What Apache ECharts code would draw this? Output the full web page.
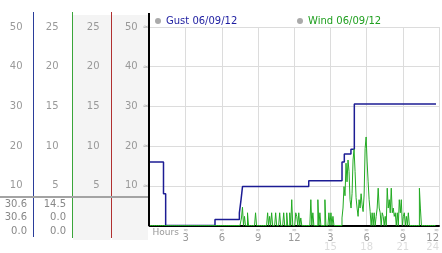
<!DOCTYPE html>
<html><head><meta charset="utf-8">
<script src="https://cdn.jsdelivr.net/npm/echarts@6/dist/echarts.min.js"></script>
<style>html,body{margin:0;padding:0;background:#fff}#c{width:442px;height:253px}</style>
</head><body><div id="c"></div>
<script>
const gustName = 'Gust 06/09/12';
const windName = 'Wind 06/09/12';
// gust: value holds from each hour onward
const gustHours  = [0, 1.16, 1.34, 5.43, 7.45, 7.59, 7.71, 13.2, 15.96, 16.15, 16.7, 16.98, 23.75];
const gustValues = [16, 8,   0,    1.5,  3.2,  6.5,  9.8,  11.3, 16.0,  18.0,  19.2, 30.6,  30.6];
// wind: one reading every 5 minutes from 0:00, one row per hour
const windStepMinutes = 5;
const windValues = [
  0,0,0,0,0,0,0,0,0,0,0,0,
  0,0,0,0,0,0,0,0,0,0,0,0,
  0,0,0,0,0,0,0,0,0,0,0,0,
  0,0,0,0,0,0,0,0,0,0,0,0,
  0,0,0,0,0,0,0,0,0,0,0,0,
  0,0,0,0,0,0,0,0,0,0,0,0,
  0,0,0,0,0,0,0,0,0,0,0,0,
  0,0,0,0,0,0,0,0,1.9,4.6,0,2.3,
  0,0,3.2,0,0,0,0,0,0,0,3.2,0,
  0,0,0,0,0,0,0,0,0,0,3.2,0,
  2.3,0,3.2,0,0,0,3.2,0,0,0,3.2,0,
  0,0,3.2,0,0,3.2,0,0,3.2,0,6.5,0,
  0,0,3.2,2.3,0,3.2,0,1.9,0,0,0,0,
  0,0,0,0,0,6.5,0,3.2,0,0,0,0,
  6.5,0,3.2,0,0,0,0,6.5,0,0,0,3.2,
  0,3.2,0,2.3,0,0,0,0,0,0,0,0,
  1.9,4.4,9.8,7.5,15.7,11,16.5,13.6,6.5,4.4,8,16.5,
  19.2,13.6,7,4.4,2.3,6.5,4.4,8,5.2,3.5,7.7,19.4,
  22.3,16,11,6.5,3.5,0,3.2,0,3.2,0,2.3,4.4,
  9.4,4.4,3.2,0,3.2,2.3,0,2.3,0,9.4,4.4,6.5,
  3.2,9.4,3.2,4.4,2.3,3.2,0,3.2,0,6.5,3.2,6.5,
  0,2.3,3.2,0,2.3,0,3.2,0,0,0,0,0,
  0,0,0,0,0,9.4,4.4,0,0,0,0,0,
  0,0,0,0,0,0,0,0,0,0
];
const xTickHours    = [0, 3, 6, 9, 12, 15, 18, 21, 24];
const xTickLabels12 = ['Hours', '3', '6', '9', '12', '3', '6', '9', '12'];
const xTickLabels24 = ['', '', '', '', '', '15', '18', '21', '24'];
const ticksMph  = ['10', '20', '30', '40', '50'];
const ticksHalf = ['5', '10', '15', '20', '25'];
const gustStats = ['30.6', '30.6', '0.0'];
const windStats = ['14.5', '0.0', '0.0'];

const FONT = 'DejaVu Sans';
const GUST = '#1c1c94';
const WIND = '#22aa22';
const LBL = '#999';

function sideAxis(offset, max, interval, ticks) {
  return {
    type: 'value', position: 'left', offset: offset, min: 0, max: max, interval: interval,
    axisLine: {show: false}, axisTick: {show: false}, splitLine: {show: false},
    axisLabel: {margin: 0, color: LBL, fontSize: 10, fontFamily: FONT, hideOverlap: false,
      formatter: v => ticks.includes(String(v)) ? String(v) : ''}
  };
}

const chart = echarts.init(document.getElementById('c'), null, {renderer: 'canvas'});
const statTexts = [];
gustStats.forEach((s, i) => statTexts.push({type: 'text', x: 27, y: 204 + i * 13.5,
  style: {text: s, fill: '#888', font: '10px "DejaVu Sans"', textAlign: 'right', textVerticalAlign: 'middle'}}));
windStats.forEach((s, i) => statTexts.push({type: 'text', x: 66, y: 204 + i * 13.5,
  style: {text: s, fill: '#888', font: '10px "DejaVu Sans"', textAlign: 'right', textVerticalAlign: 'middle'}}));

chart.setOption({
  animation: false,
  backgroundColor: '#fff',
  grid: {left: 149.5, right: 3, top: 27, bottom: 27.5, containLabel: false, outerBoundsMode: 'none'},
  legend: [
    {left: 155, top: 16, padding: 0, itemWidth: 6, itemHeight: 6, selectedMode: false,
      textStyle: {fontSize: 10, fontFamily: FONT},
      data: [{name: gustName, icon: 'circle', itemStyle: {color: '#aaa', borderWidth: 0}, textStyle: {color: '#1c1ca0'}}]},
    {left: 297, top: 16, padding: 0, itemWidth: 6, itemHeight: 6, selectedMode: false,
      textStyle: {fontSize: 10, fontFamily: FONT},
      data: [{name: windName, icon: 'circle', itemStyle: {color: '#aaa', borderWidth: 0}, textStyle: {color: '#1f9f1f'}}]}
  ],
  xAxis: {
    type: 'value', min: 0, max: 24, interval: 3, offset: 1.5,
    axisLine: {show: true, lineStyle: {color: '#000', width: 2}},
    axisTick: {show: false},
    splitLine: {show: true, lineStyle: {color: '#dcdcdc', width: 1}},
    axisLabel: {
      margin: 0, showMinLabel: true, showMaxLabel: true, hideOverlap: false,
      alignMinLabel: 'left', alignMaxLabel: 'right',
      formatter: v => {
        const k = xTickHours.indexOf(v);
        if (k < 0) return '';
        if (k === 0) return '{h|' + xTickLabels12[0] + '}';
        return '{m|≈}\n{n|' + xTickLabels12[k] + '}' + (xTickLabels24[k] ? '\n{l|' + xTickLabels24[k] + '}' : '');
      },
      rich: {
        h: {fontSize: 9, fontFamily: FONT, color: LBL, lineHeight: 12, padding: [0, 0, 0, 3]},
        m: {fontSize: 6, fontFamily: FONT, color: '#aaa', lineHeight: 7},
        n: {fontSize: 10, fontFamily: FONT, color: LBL, lineHeight: 9},
        l: {fontSize: 10, fontFamily: FONT, color: '#dcdcdc', lineHeight: 9}
      }
    }
  },
  yAxis: [
    {type: 'value', position: 'left', min: 0, max: 50, interval: 10,
      axisLine: {show: false}, axisTick: {show: false},
      splitLine: {show: true, lineStyle: {color: '#dcdcdc', width: 1}},
      axisLabel: {margin: 1, hideOverlap: false,
        formatter: v => ticksMph.includes(String(v)) ? '{v|' + v + '}{m|≈}' : '',
        rich: {v: {color: LBL, fontSize: 10, fontFamily: FONT},
               m: {color: '#aaa', fontSize: 7, fontFamily: FONT, padding: [0, 0, 0, 5]}}}},
    sideAxis(127, 50, 10, ticksMph),
    sideAxis(91, 25, 5, ticksHalf),
    sideAxis(50, 25, 5, ticksHalf)
  ],
  series: [
    {type: 'line', name: gustName, yAxisIndex: 0, step: 'end', showSymbol: false, z: 3,
      data: gustHours.map((h, i) => [h, gustValues[i]]),
      lineStyle: {color: GUST, width: 1.5}, itemStyle: {color: GUST}},
    {type: 'line', name: windName, yAxisIndex: 0, step: 'middle', showSymbol: false, z: 4,
      data: windValues.map((v, i) => [i * windStepMinutes / 60, v]),
      lineStyle: {color: WIND, width: 1}, itemStyle: {color: WIND}}
  ],
  graphic: [
    {type: 'rect', z: -10, shape: {x: 73, y: 15, width: 38, height: 225}, style: {fill: '#f4f4f4'}},
    {type: 'rect', z: -10, shape: {x: 112, y: 15, width: 36, height: 225}, style: {fill: '#f4f4f4'}},
    {type: 'line', shape: {x1: 33.5, y1: 12, x2: 33.5, y2: 237}, style: {stroke: '#2a3d9a', lineWidth: 1}},
    {type: 'line', shape: {x1: 72.5, y1: 12, x2: 72.5, y2: 238}, style: {stroke: '#3aa53a', lineWidth: 1}},
    {type: 'line', shape: {x1: 111.5, y1: 12, x2: 111.5, y2: 238}, style: {stroke: '#b03030', lineWidth: 1}},
    {type: 'line', shape: {x1: 0, y1: 197, x2: 148, y2: 197}, style: {stroke: '#a3a3a3', lineWidth: 2}},
    {type: 'line', z: 10, shape: {x1: 149, y1: 13, x2: 149, y2: 226}, style: {stroke: '#000', lineWidth: 2}}
  ].concat(statTexts)
});
</script></body></html>
